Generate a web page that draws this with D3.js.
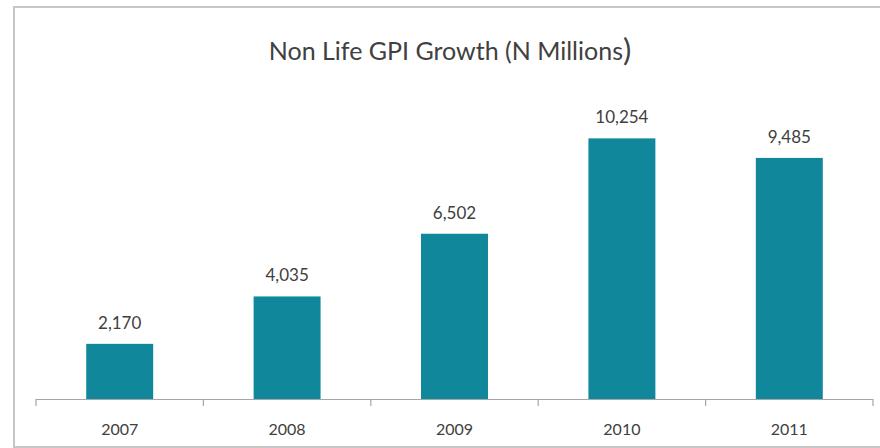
<!DOCTYPE html>
<html>
<head>
<meta charset="utf-8">
<script src="https://cdn.jsdelivr.net/npm/d3@7"></script>
<style>
  body { margin: 0; background: #fff; }
  svg { display: block; }
  .title { font-family: Lato, 'Open Sans', sans-serif; fill: #404040; }
  .lbl, .tick text { font-family: Lato, 'Open Sans', sans-serif; fill: #404040; }
</style>
</head>
<body>
<svg id="chart" width="880" height="448"></svg>
<script>
// data
var years = ['2007', '2008', '2009', '2010', '2011']
var gpi = [2170, 4035, 6502, 10254, 9485]
var yMax = 12000

var svg = d3.select('#chart')
var W = 880, H = 448
var margin = {left: 36, right: 7, top: 94, bottom: 49}

// outer frame
svg.append('rect')
  .attr('x', 14).attr('y', 7)
  .attr('width', 880).attr('height', 440)
  .attr('fill', 'none')
  .attr('stroke', '#c6c6c6')
  .attr('stroke-width', 2)

var x = d3.scaleBand()
  .domain(years)
  .range([margin.left, W - margin.right])
  .paddingInner(0.6)
  .paddingOuter(0.3)

var y = d3.scaleLinear()
  .domain([0, yMax])
  .range([H - margin.bottom, margin.top])

// title
var title = svg.append('text')
  .classed('title', true)
  .attr('x', 450)
  .attr('y', 60)
  .attr('text-anchor', 'middle')
  .attr('font-size', 25)
title.append('tspan').text('Non Life GPI Growth (N Millions')
title.append('tspan').attr('font-size', 31).attr('dy', 1).text(')')

// bars
svg.append('g').selectAll('rect')
  .data(gpi)
  .enter().append('rect')
  .attr('x', (d, i) => x(years[i]))
  .attr('y', d => y(d))
  .attr('width', x.bandwidth())
  .attr('height', d => y(0) - y(d))
  .attr('fill', '#11879b')

// value labels
svg.append('g').selectAll('text')
  .data(gpi)
  .enter().append('text')
  .classed('lbl', true)
  .attr('x', (d, i) => x(years[i]) + x.bandwidth() / 2)
  .attr('y', d => y(d) - 15)
  .attr('text-anchor', 'middle')
  .attr('font-size', 17)
  .text(d => d3.format(',')(d))

// x axis: line with ticks at category boundaries
var axisY = y(0)
var ax = svg.append('g')
ax.append('line')
  .attr('x1', margin.left).attr('x2', W - margin.right)
  .attr('y1', axisY + 0.5).attr('y2', axisY + 0.5)
  .attr('stroke', '#a6a6a6').attr('stroke-width', 1.2)

var step = x.step()
var bounds = d3.range(years.length + 1).map(i => x(years[0]) - x.paddingOuter() * step + i * step)
ax.selectAll('.tk')
  .data(bounds)
  .enter().append('line')
  .classed('tk', true)
  .attr('x1', d => d).attr('x2', d => d)
  .attr('y1', axisY).attr('y2', axisY + 7)
  .attr('stroke', '#a6a6a6').attr('stroke-width', 1.2)

ax.selectAll('.yr')
  .data(years)
  .enter().append('text')
  .classed('lbl', true)
  .attr('x', d => x(d) + x.bandwidth() / 2)
  .attr('y', axisY + 36)
  .attr('text-anchor', 'middle')
  .attr('font-size', 16)
  .text(d => d)
</script>
</body>
</html>
